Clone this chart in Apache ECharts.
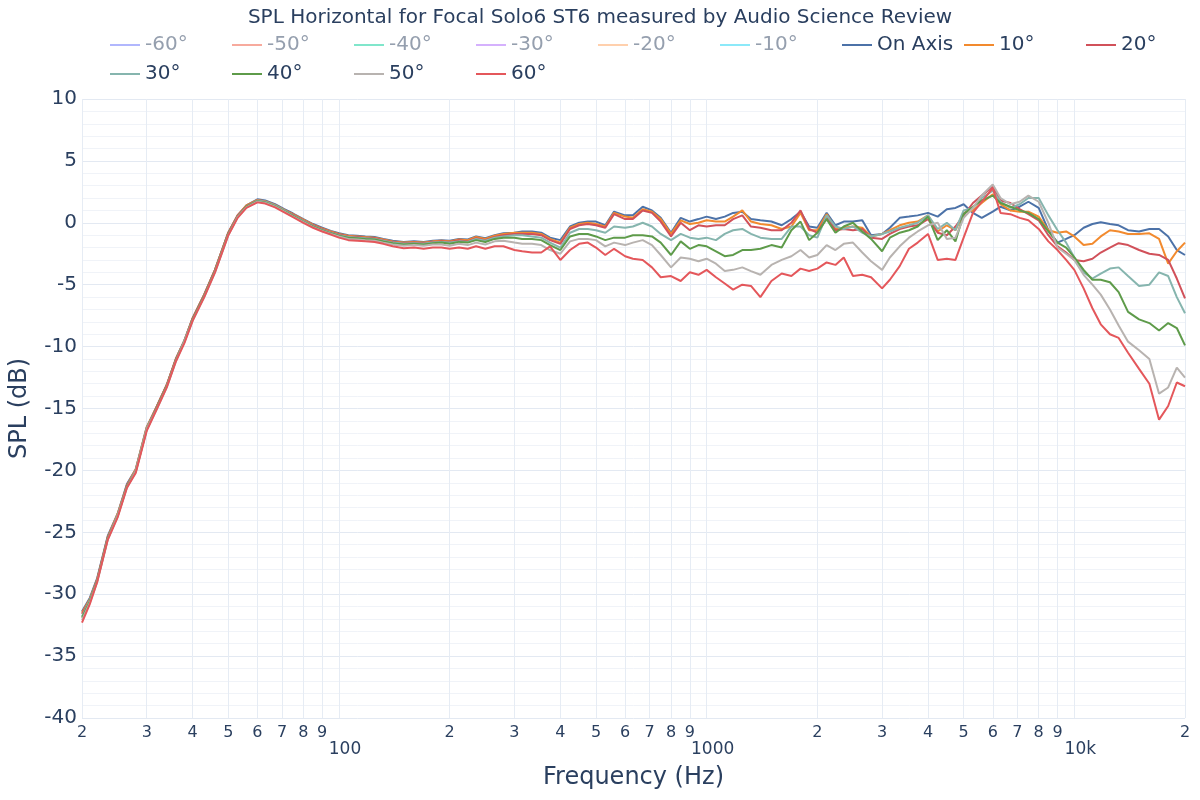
<!DOCTYPE html>
<html><head><meta charset="utf-8">
<script src="https://cdn.jsdelivr.net/npm/echarts@6/dist/echarts.min.js"></script>
<style>html,body{margin:0;padding:0;background:#fff}#c{width:1200px;height:800px}</style>
</head><body><div id="c"></div>
<script>
const freqs = [20,21,22,23.5,25,26.5,28,30,32,34,36,38,40,43,46,50,53,56,60,63,67,71,75,80,85,90,95,100,106,112,118,125,132,140,150,160,170,180,190,200,212,224,236,250,265,280,
300,315,335,355,375,400,425,450,475,500,530,560,600,630,670,710,750,800,850,900,950,1000,1060,1120,1180,1250,1320,1400,1500,1600,1700,1800,1900,2000,2120,2240,2360,2500,2650,2800,3000,3150,3350,3550,3750,4000,4250,4500,4750,5000,5300,5600,6000,6300,6700,7100,7500,8000,8500,9000,9500,10000,10600,11200,11800,12500,13200,14000,15000,16000,17000,18000,19000,20000];

const onAxis = [-31.4,-30.3,-28.7,-25.3,-23.5,-21.1,-19.9,-16.5,-14.8,-13.1,-11.0,-9.5,-7.7,-5.8,-3.8,-0.8,0.6,1.4,1.9,1.8,1.5,1.1,0.75,0.3,-0.1,-0.4,-0.65,-0.85,-1.0,-1.05,-1.1,-1.15,-1.3,-1.45,-1.55,-1.5,-1.55,-1.45,-1.4,-1.45,-1.3,-1.35,-1.1,-1.25,-1.0,-0.85,
-0.8,-0.7,-0.7,-0.8,-1.2,-1.4,-0.3,0.0,0.1,0.1,-0.2,0.9,0.6,0.6,1.3,1.0,0.4,-0.8,0.4,0.1,0.3,0.5,0.3,0.5,0.8,0.9,0.3,0.2,0.1,-0.2,0.3,0.9,-0.3,-0.4,0.8,-0.2,0.1,0.1,0.2,-1.0,-0.9,-0.4,0.4,0.5,0.6,0.8,0.5,1.1,1.2,1.5,0.8,0.4,0.9,1.3,1.0,1.3,1.7,1.2,-0.6,-1.6,-1.3,-1.0,-0.4,-0.1,0.05,-0.1,-0.2,-0.6,-0.7,-0.5,-0.5,-1.1,-2.2,-2.6];

const deg10 = [-31.5,-30.4,-28.8,-25.4,-23.5,-21.2,-19.9,-16.5,-14.8,-13.1,-11.0,-9.5,-7.7,-5.8,-3.8,-0.8,0.6,1.4,1.85,1.75,1.45,1.05,0.7,0.25,-0.15,-0.45,-0.7,-0.9,-1.05,-1.1,-1.15,-1.2,-1.35,-1.5,-1.6,-1.55,-1.6,-1.5,-1.45,-1.5,-1.35,-1.4,-1.15,-1.3,-1.05,-0.9,
-0.8,-0.8,-0.8,-0.9,-1.3,-1.6,-0.4,-0.1,0.0,-0.1,-0.3,0.8,0.5,0.4,1.1,0.9,0.3,-0.9,0.2,-0.1,0.0,0.2,0.1,0.1,0.5,1.0,0.1,-0.1,-0.2,-0.5,-0.3,0.8,-0.6,-0.6,0.7,-0.5,-0.4,-0.3,-0.4,-1.1,-0.9,-0.6,-0.2,0.0,0.1,0.6,-0.7,-0.2,-0.6,0.8,1.0,1.6,2.3,1.5,1.0,0.9,0.9,0.5,-0.6,-0.8,-0.7,-1.1,-1.8,-1.7,-1.1,-0.6,-0.7,-0.9,-0.9,-0.85,-1.3,-3.3,-2.3,-1.6];

const deg20 = [-31.6,-30.5,-28.8,-25.4,-23.6,-21.2,-20.0,-16.6,-14.8,-13.1,-11.0,-9.5,-7.7,-5.8,-3.8,-0.8,0.6,1.35,1.8,1.7,1.4,1.0,0.65,0.2,-0.2,-0.5,-0.75,-0.95,-1.1,-1.15,-1.2,-1.25,-1.4,-1.55,-1.65,-1.6,-1.65,-1.55,-1.5,-1.55,-1.4,-1.5,-1.25,-1.4,-1.15,-1.0,
-0.9,-0.9,-0.9,-1.0,-1.4,-1.7,-0.5,-0.2,-0.1,-0.2,-0.4,0.7,0.3,0.3,1.0,0.8,0.1,-1.1,0.0,-0.6,-0.2,-0.3,-0.2,-0.2,0.3,0.6,-0.3,-0.4,-0.6,-0.6,0.0,1.0,-0.5,-0.8,0.5,-0.6,-0.5,-0.6,-0.5,-1.2,-1.3,-0.9,-0.5,-0.3,-0.2,0.3,-0.8,-1.0,-0.3,0.6,1.6,2.2,2.9,1.8,1.6,1.1,0.7,0.2,-1.0,-1.9,-2.4,-3.0,-3.1,-2.9,-2.4,-2.0,-1.65,-1.8,-2.2,-2.5,-2.6,-3.0,-4.5,-6.1];

const deg30 = [-31.8,-30.5,-28.9,-25.5,-23.6,-21.3,-20.0,-16.6,-14.9,-13.2,-11.1,-9.5,-7.8,-5.9,-3.9,-0.9,0.5,1.3,1.8,1.7,1.4,1.0,0.6,0.15,-0.25,-0.55,-0.8,-1.0,-1.15,-1.2,-1.25,-1.3,-1.45,-1.6,-1.7,-1.65,-1.7,-1.6,-1.55,-1.6,-1.5,-1.55,-1.3,-1.45,-1.2,-1.1,
-1.0,-1.0,-1.1,-1.2,-1.6,-2.0,-0.8,-0.5,-0.5,-0.6,-0.8,-0.3,-0.4,-0.3,0.0,-0.3,-0.9,-1.4,-0.9,-1.2,-1.3,-1.2,-1.4,-0.9,-0.6,-0.5,-0.9,-1.2,-1.3,-1.3,-0.3,-0.3,-1.0,-1.2,0.6,-0.3,-0.5,-0.3,-0.8,-1.1,-0.9,-0.7,-0.4,-0.2,0.0,0.6,-0.5,0.0,-0.6,1.0,1.2,2.0,2.6,1.7,1.2,1.5,2.0,2.0,0.6,-0.6,-1.6,-2.8,-4.0,-4.5,-4.1,-3.7,-3.6,-4.3,-5.1,-5.0,-4.0,-4.3,-6.0,-7.3];

const deg40 = [-31.9,-30.6,-28.9,-25.5,-23.7,-21.3,-20.1,-16.7,-14.9,-13.2,-11.1,-9.6,-7.8,-5.9,-3.9,-0.9,0.5,1.3,1.75,1.65,1.35,0.95,0.55,0.1,-0.3,-0.6,-0.85,-1.05,-1.2,-1.25,-1.3,-1.35,-1.5,-1.65,-1.75,-1.7,-1.75,-1.65,-1.6,-1.7,-1.55,-1.6,-1.4,-1.55,-1.3,-1.2,
-1.2,-1.3,-1.3,-1.4,-1.8,-2.2,-1.1,-0.9,-0.9,-1.1,-1.4,-1.2,-1.2,-1.0,-1.0,-1.1,-1.6,-2.6,-1.5,-2.1,-1.8,-1.9,-2.3,-2.7,-2.6,-2.2,-2.2,-2.1,-1.8,-2.0,-0.6,0.1,-1.4,-0.8,0.3,-0.8,-0.3,0.0,-0.7,-1.3,-2.3,-1.2,-0.8,-0.6,-0.3,0.5,-1.4,-0.6,-1.5,0.7,1.3,1.8,2.2,1.6,1.3,1.0,0.8,0.3,-0.7,-1.6,-2.0,-2.8,-3.8,-4.6,-4.6,-4.8,-5.6,-7.2,-7.8,-8.1,-8.7,-8.1,-8.5,-9.9];

const deg50 = [-32.1,-30.7,-29.0,-25.6,-23.7,-21.4,-20.1,-16.7,-15.0,-13.3,-11.2,-9.6,-7.9,-6.0,-4.0,-1.0,0.45,1.25,1.7,1.6,1.3,0.9,0.5,0.05,-0.35,-0.65,-0.9,-1.1,-1.3,-1.35,-1.4,-1.45,-1.6,-1.75,-1.85,-1.8,-1.85,-1.75,-1.75,-1.85,-1.7,-1.8,-1.6,-1.75,-1.5,-1.45,
-1.6,-1.7,-1.7,-1.8,-2.2,-2.5,-1.5,-1.3,-1.3,-1.4,-1.9,-1.6,-1.8,-1.6,-1.4,-1.8,-2.6,-3.6,-2.8,-2.9,-3.1,-2.9,-3.3,-3.9,-3.8,-3.6,-3.9,-4.2,-3.4,-3.0,-2.7,-2.2,-2.8,-2.6,-1.8,-2.2,-1.7,-1.6,-2.4,-3.1,-3.8,-2.8,-1.9,-1.2,-0.7,-0.2,0.0,-1.3,-1.2,0.4,1.2,2.2,3.1,2.0,1.5,1.7,2.2,1.7,0.0,-2.0,-2.5,-3.0,-4.2,-5.0,-5.8,-7.0,-8.3,-9.6,-10.3,-11.0,-13.8,-13.3,-11.7,-12.5];

const deg60 = [-32.3,-30.8,-29.0,-25.6,-23.8,-21.4,-20.2,-16.8,-15.0,-13.3,-11.2,-9.7,-7.9,-6.0,-4.0,-1.0,0.4,1.2,1.65,1.55,1.25,0.85,0.45,0.0,-0.4,-0.7,-0.95,-1.2,-1.4,-1.45,-1.5,-1.55,-1.7,-1.9,-2.05,-2.0,-2.1,-2.0,-2.0,-2.1,-2.0,-2.1,-1.9,-2.1,-1.9,-1.9,
-2.2,-2.3,-2.4,-2.4,-1.9,-3.0,-2.2,-1.7,-1.6,-2.0,-2.6,-2.1,-2.7,-2.9,-3.0,-3.6,-4.4,-4.3,-4.7,-4.0,-4.2,-3.8,-4.4,-4.9,-5.4,-5.0,-5.1,-6.0,-4.7,-4.1,-4.3,-3.7,-3.9,-3.7,-3.2,-3.4,-2.8,-4.3,-4.2,-4.4,-5.3,-4.6,-3.5,-2.1,-1.6,-0.9,-3.0,-2.9,-3.0,-1.2,0.8,1.7,2.8,0.8,0.7,0.4,0.2,-0.5,-1.5,-2.2,-3.0,-3.8,-5.3,-6.9,-8.2,-9.0,-9.3,-10.5,-11.8,-13.0,-15.9,-14.8,-12.9,-13.2];

const hiddenNames = ['-60°','-50°','-40°','-30°','-20°','-10°'];
const visibleNames = ['On Axis','10°','20°','30°','40°','50°','60°'];
const visibleData = [onAxis, deg10, deg20, deg30, deg40, deg50, deg60];
const xTickValues = [20,30,40,50,60,70,80,90,100,200,300,400,500,600,700,800,900,1000,2000,3000,4000,5000,6000,7000,8000,9000,10000,20000];
const yTicks = {min: -40, max: 10, step: 5};

const hiddenColors = ['#b1b7fd','#f7aa9d','#80e6cb','#d5b1fd','#ffd0ad','#8ce9f9'];
const visibleColors = ['#4c72a8','#f28a2e','#d1515a','#86b5ae','#5e9b4a','#b8b3b0','#e4575b'];
const textColor = '#2a3f5f';
const fadedText = '#959fae';
const FONT = 'DejaVu Sans';

const series = [];
hiddenNames.forEach((n,i)=>series.push({name:n,type:'line',data:[],showSymbol:false,color:hiddenColors[i],lineStyle:{width:2}}));
visibleNames.forEach((n,i)=>series.push({
  name:n,type:'line',showSymbol:false,symbol:'none',color:visibleColors[i],
  lineStyle:{width:2,color:visibleColors[i]},
  data:freqs.map((f,k)=>[f,visibleData[i][k]]),
  animation:false
}));

const allNames = hiddenNames.concat(visibleNames);
const legendItem = n => ({name:n, textStyle:{color: hiddenNames.includes(n)?fadedText:textColor}});
const legendCommon = {
  left:110, orient:'horizontal', icon:'rect', itemWidth:30, itemHeight:2, itemGap:0, padding:0,
  textStyle:{fontFamily:FONT,fontSize:20,color:textColor,width:87,lineHeight:28},
  selectedMode:false
};

function fmt(v){
  const r = Math.round(v);
  if (r===100) return '\n{b|100}';
  if (r===1000) return '\n{b|1000}';
  if (r===10000) return '\n{b|10k}';
  return String(r).charAt(0);
}

const chart = echarts.init(document.getElementById('c'),null,{renderer:'canvas'});
chart.setOption({
  animation:false,
  backgroundColor:'#fff',
  title:{text:'SPL Horizontal for Focal Solo6 ST6 measured by Audio Science Review',left:'center',top:3,
    textStyle:{fontFamily:FONT,fontSize:20,fontWeight:'normal',color:textColor}},
  legend:[
    Object.assign({}, legendCommon, {top:31, width:1100, data:allNames.slice(0,9).map(legendItem)}),
    Object.assign({}, legendCommon, {top:60, width:1100, data:allNames.slice(9).map(legendItem)})
  ],
  grid:{left:80,right:15,top:99,bottom:82,containLabel:false},
  xAxis:{type:'log',logBase:10,min:20,max:20000,
    name:'Frequency (Hz)',nameLocation:'middle',nameGap:48,
    nameTextStyle:{fontFamily:FONT,fontSize:24,color:textColor},
    axisLine:{show:false},
    axisTick:{show:false,customValues:xTickValues},
    axisLabel:{customValues:xTickValues,formatter:fmt,fontFamily:FONT,fontSize:16,color:textColor,margin:6,lineHeight:17,
      rich:{b:{fontFamily:FONT,fontSize:17,color:textColor,padding:[0,0,0,12]}}},
    splitLine:{show:true,lineStyle:{color:'#e6ecf4',width:1}},
    minorSplitLine:{show:false}
  },
  yAxis:{type:'value',min:yTicks.min,max:yTicks.max,interval:yTicks.step,
    name:'SPL (dB)',nameLocation:'middle',nameGap:50,
    nameTextStyle:{fontFamily:FONT,fontSize:24,color:textColor},
    axisLine:{show:false},axisTick:{show:false},
    axisLabel:{fontFamily:FONT,fontSize:20,color:textColor,margin:5},
    splitLine:{show:true,lineStyle:{color:'#e3e9f2',width:1}},
    minorTick:{show:false,splitNumber:5},
    minorSplitLine:{show:true,lineStyle:{color:'#f0f3f8',width:1}}
  },
  series:series
});
</script></body></html>
